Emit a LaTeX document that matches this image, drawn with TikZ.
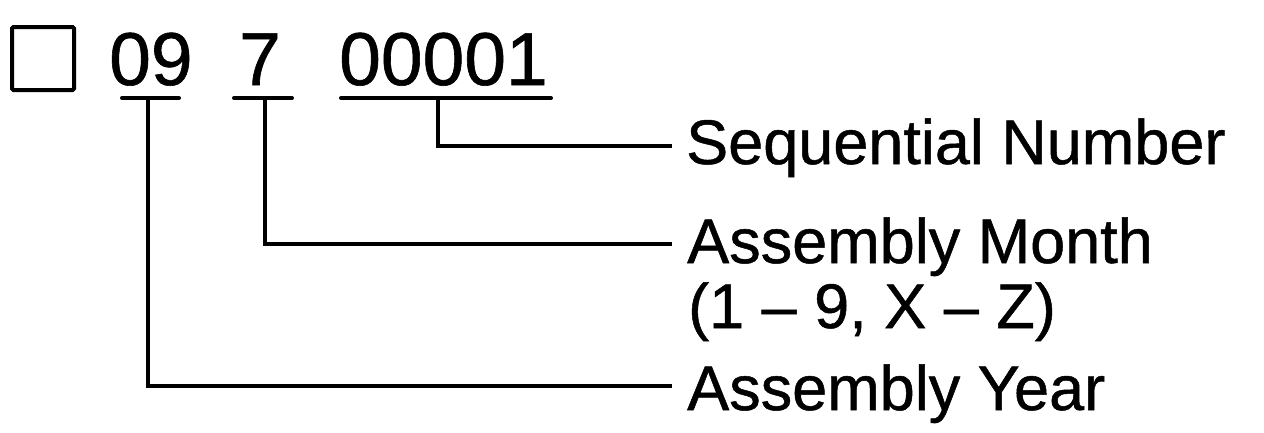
\documentclass[tikz,border=0pt]{standalone}
\usepackage{fontspec}
\setmainfont{Liberation Sans}
\newfontfamily\heavysans[FakeBold=0.8]{Liberation Sans}
\begin{document}
\begin{tikzpicture}[x=1pt,y=-1pt,
  digits/.style={inner sep=0pt, anchor=base west, font=\heavysans\fontsize{75}{75}\selectfont},
  lbl/.style={inner sep=0pt, anchor=base west, font=\heavysans\fontsize{63}{65}\selectfont},
  wire/.style={line width=4pt},
  uline/.style={line width=4pt, line cap=round}]
\useasboundingbox (0,0) rectangle (1264,432);
% square
\node[draw, line width=4pt, minimum width=62pt, minimum height=63pt, inner sep=0pt, rounded corners=1.5pt] (box) at (43,58.5) {};
% digits
\node[digits] (yy) at (109,85) {09};
\node[digits] (mm) at (239,85) {7};
\node[digits] (seq) at (339,85) {00001};
% underlines
\coordinate (yyL) at (122,98); \coordinate (yyR) at (179,98); \coordinate (yyM) at (148,98);
\coordinate (mmL) at (234,98); \coordinate (mmR) at (292,98); \coordinate (mmM) at (265,98);
\coordinate (sqL) at (341,98); \coordinate (sqR) at (551,98); \coordinate (sqM) at (438,98);
\draw[uline] (yyL) -- (yyR);
\draw[uline] (mmL) -- (mmR);
\draw[uline] (sqL) -- (sqR);
% labels
\node[lbl] (lseq) at (686,164) {Sequential Number};
\node[lbl] (lmon) at (687,263) {Assembly Month};
\node[lbl] (lrng) at (688,328) {(1 – 9, X – Z)};
\node[lbl] (lyr) at (687,410) {Assembly Year};
% connector ends
\coordinate (eseq) at (672,146);
\coordinate (emon) at (672,244);
\coordinate (eyr) at (672,386);
\draw[wire] (sqM) |- (eseq);
\draw[wire] (mmM) |- (emon);
\draw[wire] (yyM) |- (eyr);
\end{tikzpicture}
\end{document}
